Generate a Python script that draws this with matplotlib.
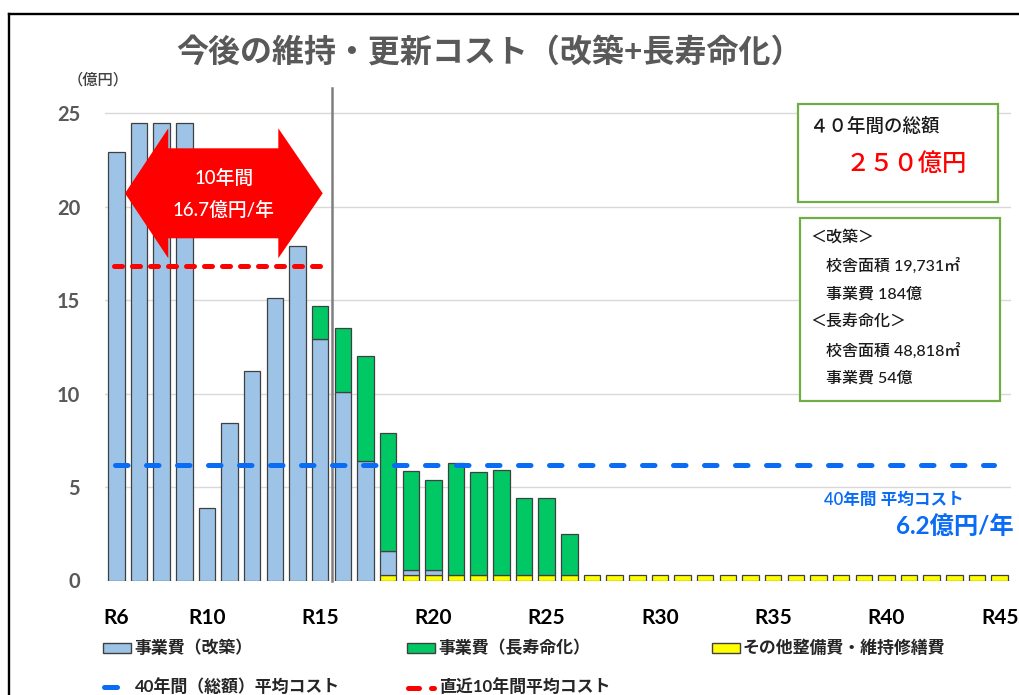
import matplotlib
matplotlib.use("Agg")
import matplotlib.pyplot as plt
from matplotlib.patches import Rectangle, Polygon
from matplotlib.lines import Line2D
from matplotlib.transforms import Affine2D

plt.rcParams['font.family'] = ['Lato', 'Noto Sans CJK JP', 'DejaVu Sans']

# ---------------- data ----------------
years = ["R6", "R7", "R8", "R9", "R10", "R11", "R12", "R13", "R14", "R15",
         "R16", "R17", "R18", "R19", "R20", "R21", "R22", "R23", "R24", "R25",
         "R26", "R27", "R28", "R29", "R30", "R31", "R32", "R33", "R34", "R35",
         "R36", "R37", "R38", "R39", "R40", "R41", "R42", "R43", "R44", "R45"]
tick_labels = ["R6", "R10", "R15", "R20", "R25", "R30", "R35", "R40", "R45"]

# 事業費（改築）
kaichiku = [22.9, 24.5, 24.5, 24.5, 3.9, 8.4, 11.2, 15.1, 17.9, 12.9,
            10.1, 6.4, 1.3, 0.27, 0.27, 0, 0, 0, 0, 0,
            0, 0, 0, 0, 0, 0, 0, 0, 0, 0,
            0, 0, 0, 0, 0, 0, 0, 0, 0, 0]
# 事業費（長寿命化）
chouju = [0, 0, 0, 0, 0, 0, 0, 0, 0, 1.8,
          3.4, 5.6, 6.3, 5.3, 4.8, 6.0, 5.5, 5.6, 4.1, 4.1,
          2.2, 0, 0, 0, 0, 0, 0, 0, 0, 0,
          0, 0, 0, 0, 0, 0, 0, 0, 0, 0]
# その他整備費・維持修繕費
sonota = [0, 0, 0, 0, 0, 0, 0, 0, 0, 0,
          0, 0, 0.3, 0.3, 0.3, 0.3, 0.3, 0.3, 0.3, 0.3,
          0.3, 0.3, 0.3, 0.3, 0.3, 0.3, 0.3, 0.3, 0.3, 0.3,
          0.3, 0.3, 0.3, 0.3, 0.3, 0.3, 0.3, 0.3, 0.3, 0.3]

avg40 = 6.2      # 40年間（総額）平均コスト
avg10 = 16.8     # 直近10年間平均コスト

# ---------------- styles ----------------
C_BLUE = "#9DC3E6"
C_GREEN = "#00C864"
C_YELLOW = "#FFFF00"
C_EDGE = "#404040"
C_LINEBLUE = "#0A6CF5"
C_RED = "#FF0000"
C_BOX = "#70AD47"

W, H = 1019, 695
fig = plt.figure(figsize=(W / 100, H / 100), dpi=100)
PX = Affine2D().scale(1 / W, -1 / H).translate(0, 1) + fig.transFigure

ax = fig.add_axes([105 / W, 1 - 580.5 / H, (1011 - 105) / W, (580.5 - 88) / H])

x = list(range(len(years)))
bw = 0.73


def draw_stack(vals, bottoms, color):
    xs = [xi for xi, v in zip(x, vals) if v > 0]
    hs = [v for v in vals if v > 0]
    bs = [b for b, v in zip(bottoms, vals) if v > 0]
    ax.bar(xs, hs, bottom=bs, width=bw, color=color, edgecolor=C_EDGE,
           linewidth=0.9, zorder=2)


zeros = [0] * len(years)
draw_stack(sonota, zeros, C_YELLOW)
draw_stack(kaichiku, sonota, C_BLUE)
bottom_green = [a + b for a, b in zip(sonota, kaichiku)]
draw_stack(chouju, bottom_green, C_GREEN)

# average lines
ax.plot([-0.06, 38.75], [avg40, avg40], color=C_LINEBLUE, lw=3.6,
        dashes=(2.5, 3.7), dash_capstyle="round", zorder=4)
ax.plot([-0.1, 9.05], [avg10, avg10], color=C_RED, lw=3.6,
        dashes=(1.6, 2.0), dash_capstyle="round", zorder=4)

# separator line between R15 and R16
ax.plot([9.5, 9.5], [0, 26.35], color="#7F7F7F", lw=1.8, zorder=3,
        clip_on=False)

ax.set_xlim(-0.5, 39.5)
ax.set_ylim(0, 26.35)
ax.set_yticks([0, 5, 10, 15, 20, 25])
ax.set_yticklabels(["0", "5", "10", "15", "20", "25"])
ax.set_xticks([years.index(t) for t in tick_labels])
ax.set_xticklabels(tick_labels)
ax.yaxis.grid(True, color="#D9D9D9", lw=1.0)
ax.set_axisbelow(True)
for s in ax.spines.values():
    s.set_visible(False)
ax.tick_params(axis="both", length=0)
ax.tick_params(axis="y", pad=18, labelsize=14.5, labelcolor="#595959")
ax.tick_params(axis="x", pad=20, labelsize=15, labelcolor="#000000")
for lab in ax.get_yticklabels() + ax.get_xticklabels():
    lab.set_fontweight("bold")

# ---------------- annotations ----------------
# frame
fig.add_artist(Line2D([9, 1019], [13.5, 13.5], color="black", lw=1.7, transform=PX))
fig.add_artist(Line2D([9, 9], [13.5, 695], color="black", lw=1.7, transform=PX))

# title
fig.text(490, 51, "今後の維持・更新コスト（改築+長寿命化）", transform=PX,
         ha="center", va="center", fontsize=23, fontweight="bold", color="#595959")
fig.text(98, 80.5, "（億円）", transform=PX, ha="center", va="center",
         fontsize=11, fontweight="medium", color="#404040")

# double arrow
arrow = Polygon([(125, 193.3), (168.3, 128.3), (168.3, 148.3), (278.3, 148.3),
                 (278.3, 128.3), (322.7, 193.3), (278.3, 258.3), (278.3, 238.3),
                 (168.3, 238.3), (168.3, 258.3)], closed=True,
                facecolor=C_RED, edgecolor="none", transform=PX, zorder=5)
fig.add_artist(arrow)
fig.text(224, 178, "10年間", transform=PX, ha="center", va="center",
         fontsize=13.5, fontweight="medium", color="white", zorder=6)
fig.text(224, 210, "16.7億円/年", transform=PX, ha="center", va="center",
         fontsize=13.5, fontweight="medium", color="white", zorder=6)

# box 1
fig.add_artist(Rectangle((798.3, 104.3), 200, 97.4, facecolor="white",
                         edgecolor=C_BOX, lw=1.6, transform=PX, zorder=5))
fig.text(810, 125.5, "４０年間の総額", transform=PX, ha="left", va="center",
         fontsize=13.3, fontweight="medium", color="#1A1A1A", zorder=6)
fig.text(906, 163, "２５０億円", transform=PX, ha="center", va="center",
         fontsize=17.5, fontweight="medium", color=C_RED, zorder=6)

# box 2
fig.add_artist(Rectangle((800, 217.7), 200, 183.3, facecolor="white",
                         edgecolor=C_BOX, lw=1.6, transform=PX, zorder=5))
box2_lines = [
    (810.7, 236.7, "＜改築＞"),
    (826, 266, "校舎面積 19,731㎡"),
    (826, 294, "事業費 184億"),
    (810.7, 321.7, "＜長寿命化＞"),
    (826, 350.7, "校舎面積 48,818㎡"),
    (826, 378.3, "事業費 54億"),
]
for bx, by, t in box2_lines:
    fig.text(bx, by, t, transform=PX, ha="left", va="center",
             fontsize=11.5, fontweight="medium", color="#1A1A1A", zorder=6)

# average label
fig.text(824, 500, "40年間 平均コスト", transform=PX, ha="left", va="center",
         fontsize=12, fontweight="semibold", color=C_LINEBLUE, zorder=6)
fig.text(1013.3, 526, "6.2億円/年", transform=PX, ha="right", va="center",
         fontsize=17.5, fontweight="bold", color=C_LINEBLUE, zorder=6)

# ---------------- legend ----------------
leg_patches = [(103, C_BLUE, "事業費（改築）"),
               (407, C_GREEN, "事業費（長寿命化）"),
               (712, C_YELLOW, "その他整備費・維持修繕費")]
for lx, col, t in leg_patches:
    fig.add_artist(Rectangle((lx, 643), 28, 10, facecolor=col, edgecolor=C_EDGE,
                             lw=1.0, transform=PX))
    fig.text(lx + 31, 648, t, transform=PX, ha="left", va="center",
             fontsize=12.2, fontweight="bold", color="#262626")

fig.add_artist(Line2D([104.5, 117], [687, 687], color=C_LINEBLUE, lw=3.6,
                      solid_capstyle="round", transform=PX))
fig.text(135, 687, "40年間（総額）平均コスト", transform=PX, ha="left",
         va="center", fontsize=12.2, fontweight="bold", color="#262626")
fig.add_artist(Line2D([408.5, 419.5], [687.5, 687.5], color=C_RED, lw=3.6,
                      solid_capstyle="round", transform=PX))
fig.add_artist(Line2D([431, 434.5], [687.5, 687.5], color=C_RED, lw=3.6,
                      solid_capstyle="round", transform=PX))
fig.text(439, 687, "直近10年間平均コスト", transform=PX, ha="left",
         va="center", fontsize=12.2, fontweight="bold", color="#262626")

fig.savefig("out.png", dpi=100)
